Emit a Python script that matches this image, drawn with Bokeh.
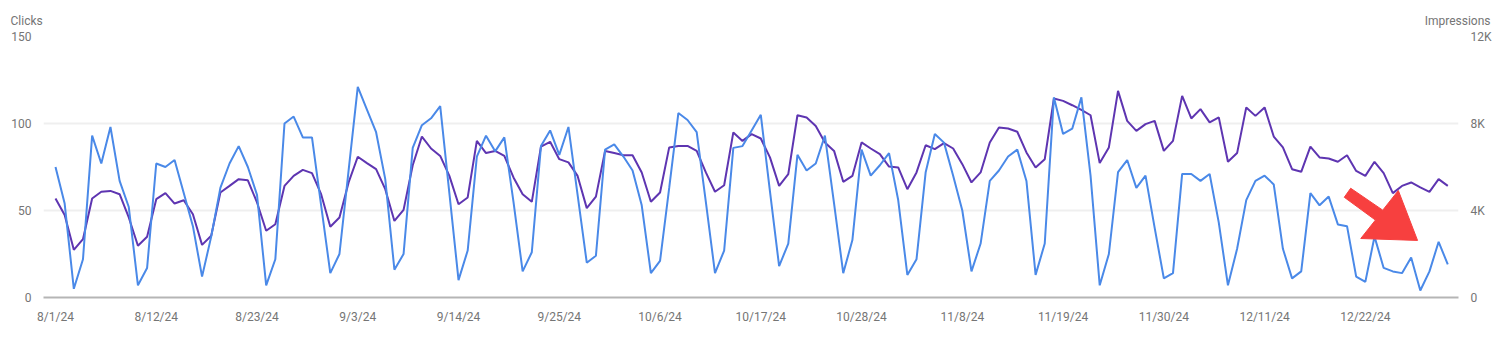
import pandas as pd
from bokeh.plotting import figure
from bokeh.models import Range1d, LinearAxis, FixedTicker, Title
from bokeh.embed import file_html
from bokeh.resources import INLINE

# ---------------- data ----------------
dates = pd.date_range("2024-08-01", "2024-12-31", freq="D")

clicks = [
    75, 54, 5, 22, 93, 77, 98, 67, 52, 7, 17, 77, 75, 79, 60, 41, 12, 35, 63, 77, 87, 75, 59, 7, 22,
    100, 104, 92, 92, 53, 14, 25, 73, 121, 108, 95, 68, 16, 25, 86, 99, 103, 110, 60, 10, 27, 81, 93, 84, 92,
    55, 15, 26, 87, 96, 82, 98, 59, 20, 24, 85, 88, 81, 73, 53, 14, 21, 63, 106, 102, 95, 55, 14, 27, 86,
    87, 96, 105, 61, 18, 31, 82, 73, 77, 93, 54, 14, 33, 85, 70, 76, 83, 56, 13, 22, 72, 94, 89, 70, 50,
    15, 31, 67, 73, 81, 85, 67, 13, 31, 115, 94, 97, 115, 70, 7, 25, 72, 79, 63, 70, 40, 11, 14, 71, 71,
    67, 71, 43, 7, 28, 56, 67, 70, 65, 28, 11, 15, 60, 53, 58, 42, 41, 12, 9, 35, 17, 15, 14, 23, 4, 15, 32, 19,
]

impressions = [
    4550, 3790, 2190, 2680, 4550, 4860, 4900, 4750, 3680, 2380, 2790, 4520, 4800, 4320, 4470, 3830, 2420, 2840, 4830, 5130, 5440, 5390, 4370, 3070, 3370,
    5130, 5590, 5870, 5720, 4750, 3250, 3680, 5290, 6470, 6180, 5900, 4980, 3520, 4030, 6080, 7400, 6850, 6510, 5590, 4290, 4600, 7200, 6640, 6740, 6510,
    5520, 4750, 4400, 6940, 7160, 6360, 6210, 5590, 4110, 4640, 6740, 6640, 6540, 6540, 5750, 4400, 4830, 6900, 6970, 6970, 6740, 5750, 4860, 5160, 7590,
    7200, 7510, 7310, 6440, 5130, 5670, 8380, 8280, 7890, 7130, 6740, 5320, 5590, 7130, 6850, 6590, 6020, 5980, 4980, 5750, 7000, 6820, 7100, 6850, 6130,
    5290, 5750, 7130, 7820, 7770, 7620, 6670, 5980, 6360, 9150, 9040, 8840, 8630, 8380, 6180, 6900, 9500, 8120, 7660, 7970, 8120, 6740, 7200, 9270, 8230,
    8660, 8050, 8280, 6240, 6640, 8740, 8350, 8740, 7400, 6900, 5900, 5780, 6940, 6440, 6390, 6240, 6540, 5820, 5590, 6240, 5720, 4800, 5130, 5290, 5060, 4860, 5440, 5130,
]

x_tick_labels = ["8/1/24", "8/12/24", "8/23/24", "9/3/24", "9/14/24", "9/25/24", "10/6/24",
                 "10/17/24", "10/28/24", "11/8/24", "11/19/24", "11/30/24", "12/11/24", "12/22/24"]
left_ticks = [0, 50, 100, 150]
right_ticks = [0, 4000, 8000, 12000]
right_tick_labels = ["0", "4K", "8K", "12K"]

# annotation arrow (day index, clicks scale)
arrow_x = [140.7, 141.4, 144.9, 146.6, 148.7, 142.5, 144.1]
arrow_y = [57.6, 62.8, 50.2, 61.5, 32.8, 33.9, 44.5]

# ---------------- figure ----------------
days = list(range(len(dates)))
date_labels = [f"{d.month}/{d.day}/{d.strftime('%y')}" for d in dates]
tick_pos = [date_labels.index(t) for t in x_tick_labels]

FONT = "Roboto"
GREY = "#757575"

W, H = 1504, 360
BL, BR, BT, BB = 43, 46, 36, 63

p = figure(width=W, height=H, output_backend="svg", toolbar_location=None,
           x_range=Range1d(-1.31, 153.17), y_range=Range1d(0, 150),
           min_border_left=BL, min_border_right=BR, min_border_top=BT, min_border_bottom=BB)
p.outline_line_color = None
p.background_fill_color = "white"
p.border_fill_color = "white"
p.extra_y_ranges = {"imp": Range1d(0, 12000)}

# grid
p.xgrid.visible = False
p.ygrid.ticker = FixedTicker(ticks=left_ticks)
p.ygrid.grid_line_color = "#efefef"
p.ygrid.grid_line_width = 2

# x axis
xa = p.xaxis[0]
xa.ticker = FixedTicker(ticks=tick_pos)
xa.major_label_overrides = {pos: lab for pos, lab in zip(tick_pos, x_tick_labels)}
xa.axis_line_color = "#b5b5b5"
xa.axis_line_width = 2
xa.major_tick_line_color = None
xa.minor_tick_line_color = None
xa.major_label_standoff = 6
xa.major_label_text_font = FONT
xa.major_label_text_font_size = "12px"
xa.major_label_text_color = GREY

# left axis
ya = p.yaxis[0]
ya.ticker = FixedTicker(ticks=left_ticks)
ya.axis_line_color = None
ya.major_tick_line_color = None
ya.minor_tick_line_color = None
ya.major_label_standoff = 6
ya.major_label_text_font = FONT
ya.major_label_text_font_size = "12px"
ya.major_label_text_color = GREY

# right axis
ra = LinearAxis(y_range_name="imp", ticker=FixedTicker(ticks=right_ticks))
ra.major_label_overrides = {t: l for t, l in zip(right_ticks, right_tick_labels)}
ra.axis_line_color = None
ra.major_tick_line_color = None
ra.minor_tick_line_color = None
ra.major_label_standoff = 6
ra.major_label_text_font = FONT
ra.major_label_text_font_size = "12px"
ra.major_label_text_color = GREY
p.add_layout(ra, "right")

# lines
p.line(days, impressions, y_range_name="imp", line_color="#5e35b1", line_width=2)
p.line(days, clicks, line_color="#4a89e8", line_width=2)

# arrow annotation
p.patch(arrow_x, arrow_y, fill_color="#f7403f", line_color="#f7403f", line_width=1)

# axis titles (same row above the frame)
p.add_layout(Title(text="Clicks", align="left", offset=-33, standoff=17,
                   text_font=FONT, text_font_size="12px", text_color=GREY,
                   text_font_style="normal"), "above")
p.add_layout(Title(text="Impressions", align="right", offset=-32, standoff=-49,
                   text_font=FONT, text_font_size="12px", text_color=GREY,
                   text_font_style="normal"), "above")

open("out.html", "w").write(file_html(p, INLINE))
